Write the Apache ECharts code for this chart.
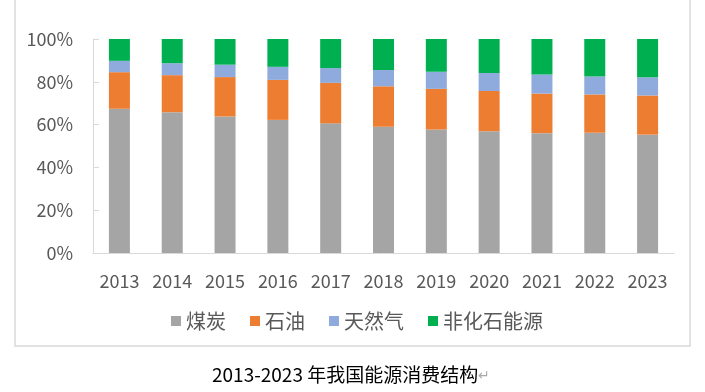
<!DOCTYPE html>
<html><head><meta charset="utf-8">
<script src="https://cdn.jsdelivr.net/npm/echarts@6/dist/echarts.min.js"></script>
<style>html,body{margin:0;padding:0;background:#fff}#c{width:705px;height:392px}</style>
</head><body><div id="c"></div>
<script>
const years = ['2013','2014','2015','2016','2017','2018','2019','2020','2021','2022','2023'];
const coal = [67.4,65.8,63.8,62.2,60.6,59.0,57.7,56.9,56.0,56.2,55.3];
const oil = [17.1,17.3,18.4,18.7,18.9,18.9,19.0,18.8,18.5,17.9,18.3];
const gas = [5.3,5.6,5.8,6.1,6.9,7.6,8.0,8.4,8.9,8.4,8.5];
const nonFossil = [10.2,11.3,12.0,13.0,13.6,14.5,15.3,15.9,16.6,17.5,17.9];
const seriesNames = ['煤炭','石油','天然气','非化石能源'];
const colors = ['#a5a5a5','#ed7d31','#8faadc','#00b050'];
const caption = '2013-2023 年我国能源消费结构';

const chart = echarts.init(document.getElementById('c'));
const font = '"Noto Sans CJK SC", "Noto Sans", sans-serif';
const dataSets = [coal, oil, gas, nonFossil];
chart.setOption({
  animation: false,
  textStyle: {fontFamily: font},
  grid: {left: 93, right: 31, top: 39, height: 214, containLabel: false},
  legend: {
    data: seriesNames, top: 306, left: 166, itemWidth: 10, itemHeight: 10,
    itemGap: 24, icon: 'rect',
    textStyle: {fontSize: 20, color: '#595959', fontFamily: font}
  },
  xAxis: {
    type: 'category', data: years,
    axisLine: {lineStyle: {color: '#d9d9d9'}},
    axisTick: {show: false},
    axisLabel: {fontSize: 18, color: '#595959', margin: 19, fontFamily: font}
  },
  yAxis: {
    type: 'value', min: 0, max: 100, interval: 20,
    axisLine: {show: true, lineStyle: {color: '#d9d9d9'}},
    axisTick: {show: true, inside: true, length: 6, lineStyle: {color: '#d9d9d9'}},
    splitLine: {show: false},
    axisLabel: {fontSize: 18, color: '#595959', margin: 20, formatter: '{value}%', fontFamily: font}
  },
  series: dataSets.map((d, i) => ({
    name: seriesNames[i], type: 'bar', stack: 'total', data: d,
    barWidth: 21, itemStyle: {color: colors[i]}
  })),
  graphic: [
    {type: 'rect', shape: {x: 15, y: -2, width: 675, height: 348}, style: {fill: 'none', stroke: '#d9d9d9', lineWidth: 1.5}},
    {type: 'text', left: 212, top: 365, style: {
      text: '{a|' + caption + '}{b|↵}',
      rich: {a: {fontSize: 19, fill: '#000', fontFamily: font}, b: {fontSize: 14, fill: '#aaa', fontFamily: font}}
    }}
  ]
});
</script></body></html>
